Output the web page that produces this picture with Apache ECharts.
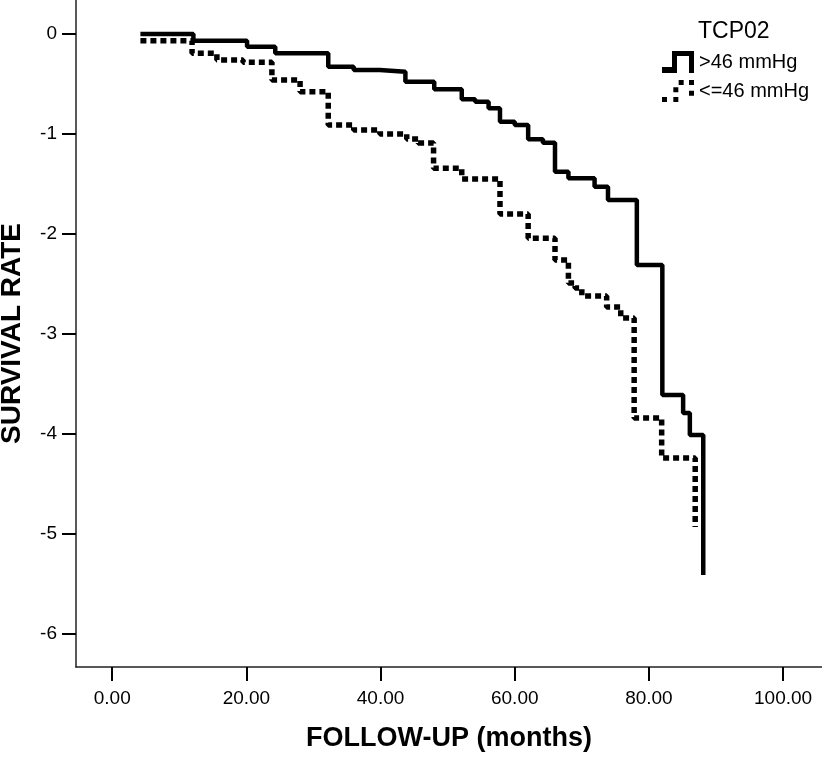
<!DOCTYPE html>
<html>
<head>
<meta charset="utf-8">
<script src="https://cdn.jsdelivr.net/npm/echarts@6/dist/echarts.min.js"></script>
<style>html,body{margin:0;padding:0;background:#fff}#c{width:822px;height:757px}</style>
</head>
<body>
<div id="c"></div>
<script>
// ---- data ----
const legendTitle = 'TCP02';
const seriesNames = ['>46 mmHg', '<=46 mmHg'];
const xTicks = [0, 20, 40, 60, 80, 100];
const yTicks = [0, -1, -2, -3, -4, -5, -6];

const highTime = [4.2, 12.1, 20.1, 24.3, 32.2, 36.0, 39.9, 43.7, 48.0, 52.1, 54.1, 56.1, 57.8, 60.0, 62.0, 64.2, 66.0, 68.0, 71.9, 73.9, 78.2, 82.0, 85.1, 86.1, 88.1];
const highSurv = [0, -0.067, -0.127, -0.193, -0.327, -0.36, -0.377, -0.477, -0.553, -0.653, -0.677, -0.743, -0.877, -0.91, -1.053, -1.087, -1.377, -1.443, -1.527, -1.66, -2.31, -3.61, -3.79, -4.01, -5.41];

const lowTime = [4.2, 11.9, 15.6, 19.5, 23.8, 28.0, 32.2, 36.0, 39.9, 43.9, 45.6, 47.9, 52.1, 57.8, 62.0, 66.0, 68.0, 69.0, 70.0, 73.7, 75.8, 77.8, 81.9, 86.9];
const lowSurv = [-0.067, -0.193, -0.26, -0.283, -0.46, -0.577, -0.91, -0.96, -1.0, -1.05, -1.09, -1.343, -1.45, -1.80, -2.043, -2.26, -2.49, -2.54, -2.62, -2.73, -2.84, -3.84, -4.24, -4.93];

// ---- chart ----
const FONT = '"Liberation Sans", Arial, sans-serif';
const zip = (a, b) => a.map((v, i) => [v, b[i]]);

const solidIcon = 'path://M0 48 L30 48 L30 0 L96 0 L96 66 L81 66 L81 15 L45 15 L45 66 L0 66 Z';
const dotIcon = 'path://' + [[0,51],[34,51],[34,22],[50,0],[81,0],[81,32]]
  .map(p => `M${p[0]} ${p[1]} h15 v15 h-15 Z`).join(' ');

const chart = echarts.init(document.getElementById('c'), null, {renderer: 'canvas'});
chart.setOption({
  animation: false,
  backgroundColor: '#fff',
  title: {
    text: legendTitle,
    left: 698, top: 20, padding: 0,
    textStyle: {fontFamily: FONT, fontSize: 23, fontWeight: 'normal', color: '#000'}
  },
  legend: {
    orient: 'vertical',
    left: 662, top: 51, padding: 0,
    itemWidth: 32, itemHeight: 22, itemGap: 7,
    textStyle: {fontFamily: FONT, fontSize: 20, color: '#000'},
    itemStyle: {borderWidth: 0},
    data: [
      {name: seriesNames[0], icon: solidIcon},
      {name: seriesNames[1], icon: dotIcon}
    ]
  },
  grid: {left: 76, right: 0, top: 0, bottom: 90, containLabel: false, outerBoundsMode: 'none'},
  xAxis: {
    type: 'value',
    min: -5.4, max: 105.8,
    name: 'FOLLOW-UP (months)',
    nameLocation: 'middle', nameGap: 58,
    nameTextStyle: {fontFamily: FONT, fontSize: 27, fontWeight: 'bold', color: '#000'},
    axisLine: {show: true, onZero: false, lineStyle: {color: '#222', width: 1.5}},
    axisTick: {show: true, length: 14, customValues: xTicks, lineStyle: {color: '#000', width: 2}},
    axisLabel: {customValues: xTicks, margin: 22, fontFamily: FONT, fontSize: 19, color: '#000',
      formatter: v => v.toFixed(2)},
    splitLine: {show: false}
  },
  yAxis: {
    type: 'value',
    min: -6.33, max: 0.34,
    name: 'SURVIVAL RATE',
    nameLocation: 'middle', nameGap: 50,
    nameTextStyle: {fontFamily: FONT, fontSize: 28, fontWeight: 'bold', color: '#000'},
    axisLine: {show: true, onZero: false, lineStyle: {color: '#222', width: 1.5}},
    axisTick: {show: true, length: 14, customValues: yTicks, lineStyle: {color: '#000', width: 2}},
    axisLabel: {customValues: yTicks, margin: 19, fontFamily: FONT, fontSize: 19, color: '#000',
      formatter: v => String(v)},
    splitLine: {show: false}
  },
  series: [
    {
      name: seriesNames[1], type: 'line', step: 'end', showSymbol: false, symbol: 'none',
      color: '#000',
      lineStyle: {color: '#000', width: 5.5, type: [6, 4], cap: 'butt'},
      data: zip(lowTime, lowSurv), z: 2
    },
    {
      name: seriesNames[0], type: 'line', step: 'end', showSymbol: false, symbol: 'none',
      color: '#000',
      lineStyle: {color: '#000', width: 4.5, type: 'solid'},
      data: zip(highTime, highSurv), z: 3
    }
  ]
});
</script>
</body>
</html>
